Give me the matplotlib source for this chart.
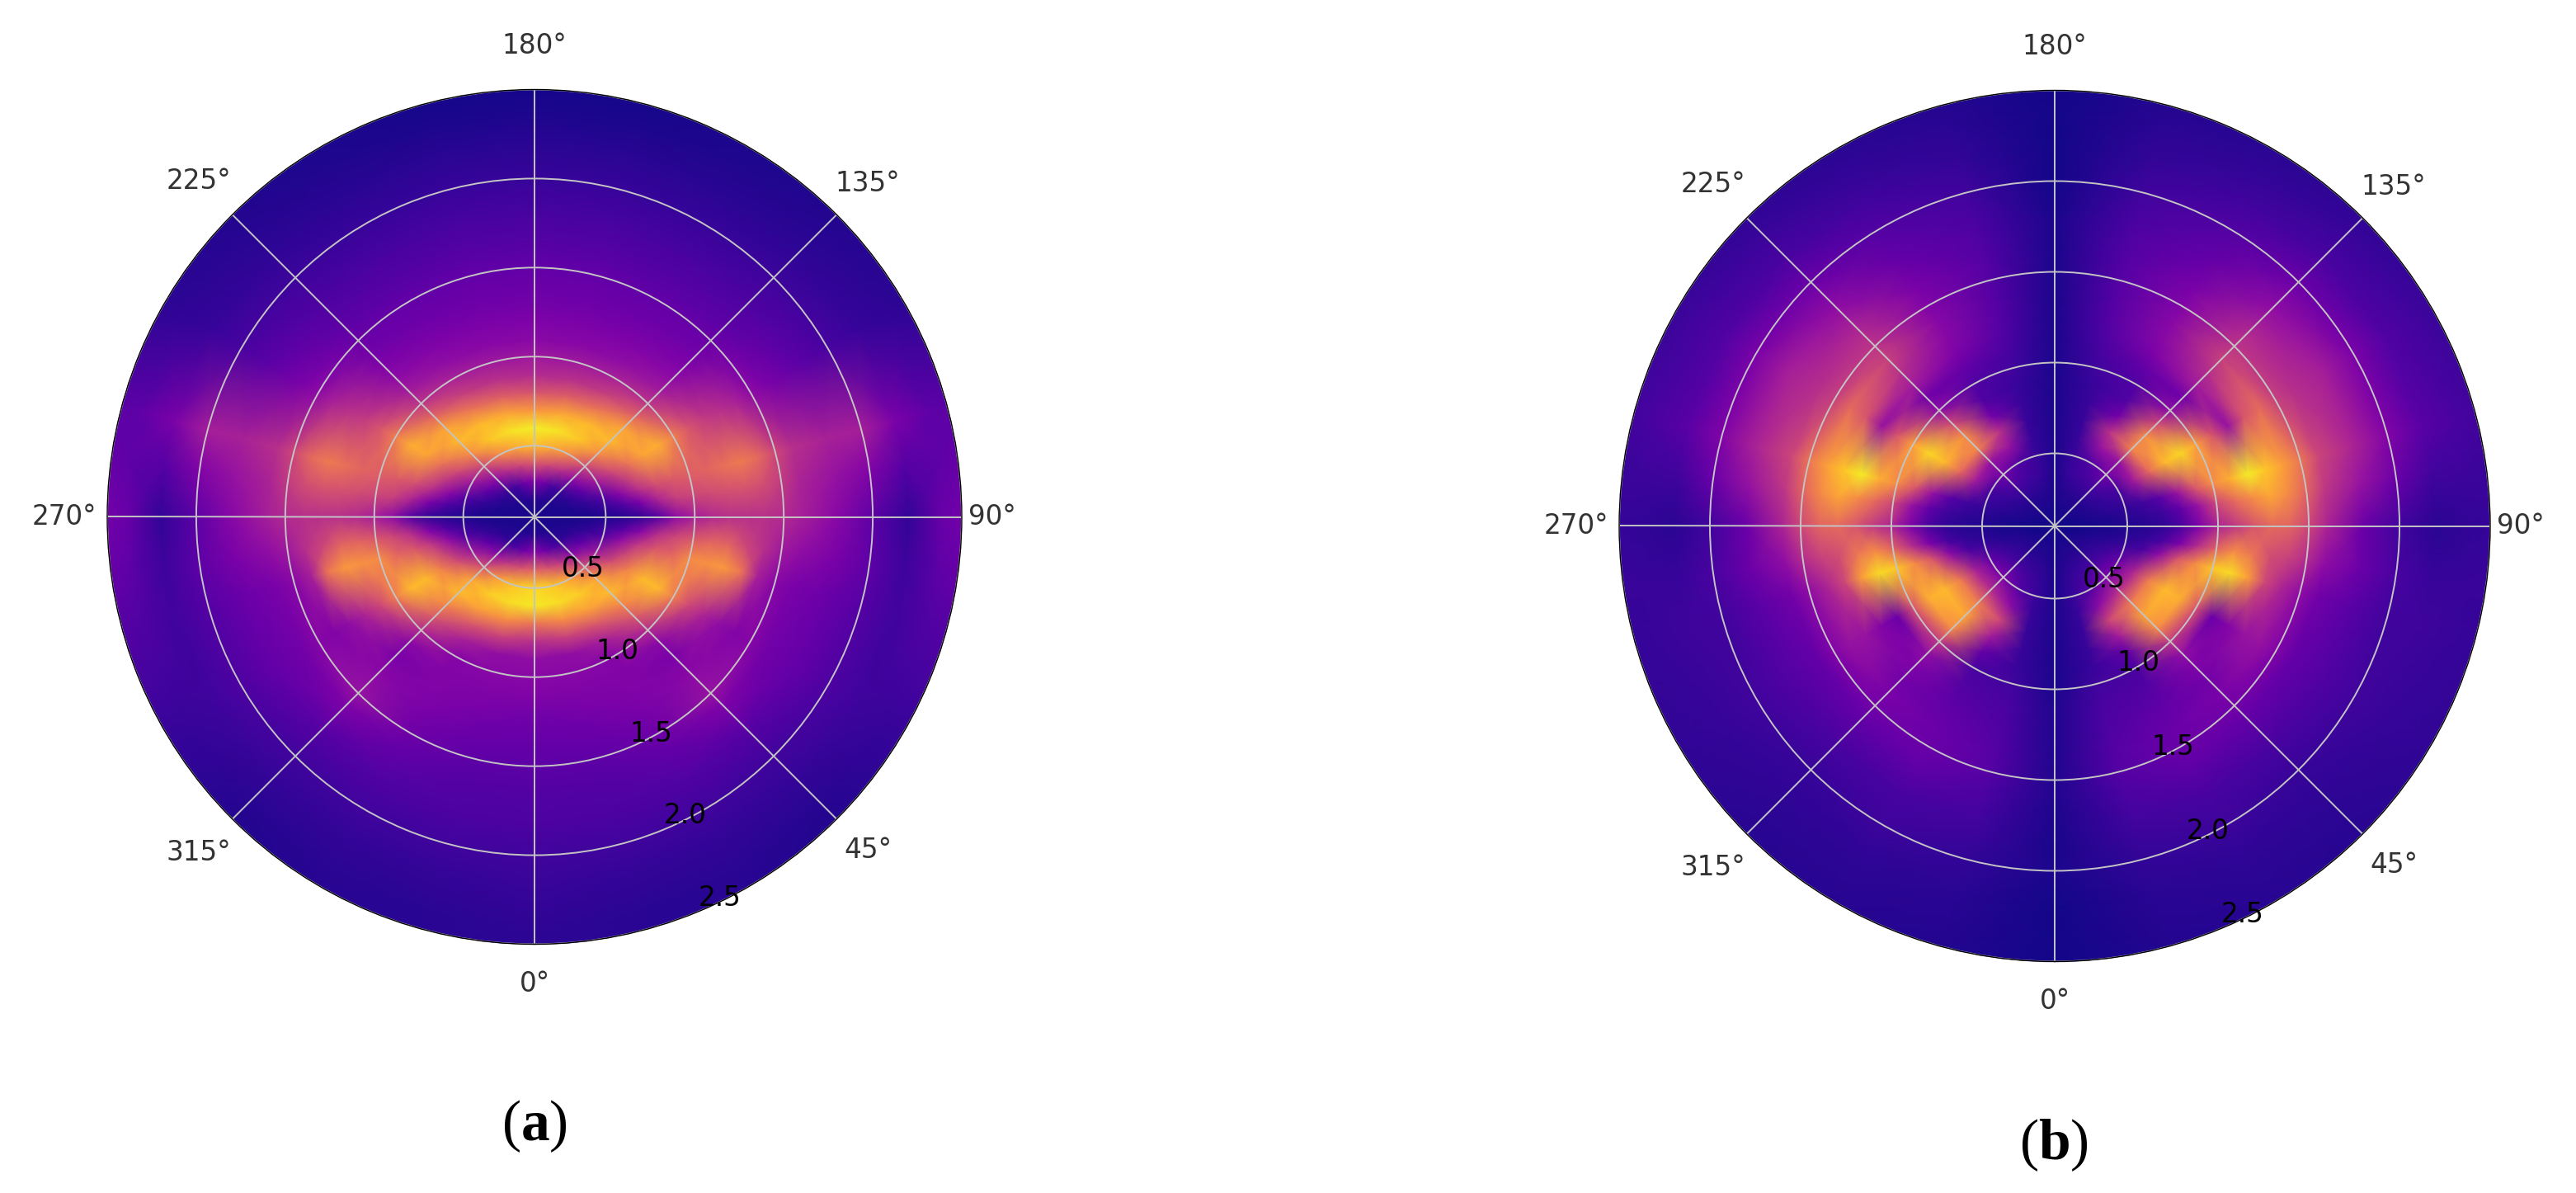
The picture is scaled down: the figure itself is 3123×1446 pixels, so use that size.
"Two polar intensity maps, panels (a) and (b)"
import numpy as np
import matplotlib
matplotlib.use('Agg')
import matplotlib.pyplot as plt

plt.rcParams['mathtext.fontset'] = 'custom'
plt.rcParams['mathtext.bf'] = 'Liberation Serif:bold'
plt.rcParams['mathtext.rm'] = 'Liberation Serif'

radii = [.1, .2, .3, .4, .5, .6, .7, .8, .9, 1.0, 1.1, 1.2, 1.3, 1.4, 1.5, 1.6, 1.8, 2.0, 2.2, 2.4, 2.6]
angles = [0, 15, 30, 45, 60, 75, 82, 90, 98, 105, 120, 135, 150, 165, 180]
r_ticks = [0.5, 1.0, 1.5, 2.0, 2.5]
theta_ticks = [0, 45, 90, 135, 180, 225, 270, 315]

# panel (a), one list per angle, read along the radius
a_000 = [.02, .04, .28, .60, .92, .96, .65, .42, .30, .28, .26, .22, .20, .18, .17, .15, .13, .10, .08, .06, .05]
a_015 = [.02, .04, .22, .55, .88, .94, .72, .48, .30, .28, .26, .24, .21, .19, .17, .15, .13, .10, .07, .05, .05]
a_030 = [.02, .03, .14, .45, .78, .90, .78, .55, .36, .27, .26, .26, .25, .23, .21, .18, .14, .10, .07, .05, .04]
a_045 = [.02, .03, .08, .30, .55, .80, .85, .70, .55, .40, .28, .24, .27, .30, .32, .25, .15, .10, .07, .04, .03]
a_060 = [.02, .02, .05, .18, .35, .52, .70, .85, .85, .68, .50, .38, .30, .26, .27, .22, .18, .13, .09, .08, .08]
a_075 = [.02, .02, .03, .07, .14, .30, .45, .56, .60, .72, .74, .76, .66, .36, .28, .24, .20, .15, .10, .14, .16]
a_082 = [.02, .02, .02, .04, .08, .15, .28, .42, .50, .56, .60, .60, .50, .42, .34, .30, .24, .17, .09, .17, .20]
a_090 = [.02, .02, .02, .02, .03, .04, .07, .15, .30, .36, .40, .42, .42, .42, .40, .36, .28, .17, .07, .20, .24]
a_098 = [.02, .02, .02, .04, .08, .14, .25, .38, .48, .50, .52, .54, .55, .52, .46, .38, .32, .26, .15, .17, .20]
a_105 = [.02, .02, .03, .07, .14, .28, .42, .52, .56, .58, .60, .64, .67, .62, .50, .42, .37, .36, .24, .17, .16]
a_120 = [.02, .02, .05, .18, .35, .50, .65, .80, .82, .68, .55, .46, .42, .37, .29, .24, .17, .12, .08, .06, .05]
a_135 = [.02, .03, .08, .30, .50, .72, .85, .80, .60, .44, .35, .29, .25, .22, .20, .17, .13, .09, .06, .04, .03]
a_150 = [.02, .03, .12, .42, .70, .88, .85, .65, .47, .37, .30, .26, .23, .20, .18, .16, .12, .08, .05, .03, .02]
a_165 = [.02, .04, .22, .50, .80, .95, .80, .58, .42, .34, .28, .25, .22, .20, .18, .16, .12, .08, .05, .02, .01]
a_180 = [.02, .04, .25, .55, .85, .97, .75, .55, .40, .34, .28, .25, .22, .20, .18, .16, .12, .08, .05, .02, .01]

# panel (b)
b_000 = [.01, .01, .02, .02, .02, .02, .02, .02, .02, .02, .03, .03, .03, .03, .03, .03, .02, .02, .01, .01, .01]
b_015 = [.01, .02, .04, .07, .08, .08, .08, .08, .08, .10, .12, .13, .14, .15, .15, .13, .10, .07, .05, .04, .03]
b_030 = [.01, .02, .05, .10, .15, .30, .50, .35, .18, .12, .14, .16, .18, .20, .20, .18, .12, .09, .06, .05, .04]
b_045 = [.01, .02, .05, .12, .25, .42, .68, .80, .72, .45, .30, .25, .22, .24, .22, .18, .12, .08, .06, .05, .04]
b_060 = [.01, .02, .05, .10, .20, .38, .68, .85, .82, .55, .20, .26, .32, .32, .26, .18, .14, .10, .08, .07, .06]
b_075 = [.01, .01, .03, .05, .08, .12, .30, .55, .72, .88, .93, .78, .50, .38, .30, .22, .16, .10, .09, .08, .07]
b_082 = [.01, .01, .02, .03, .05, .07, .12, .25, .42, .60, .72, .66, .52, .48, .40, .30, .20, .12, .08, .08, .08]
b_090 = [.01, .01, .01, .02, .03, .04, .06, .12, .25, .38, .45, .55, .62, .60, .50, .38, .20, .10, .05, .07, .08]
b_098 = [.01, .01, .02, .03, .05, .07, .10, .18, .32, .50, .62, .72, .80, .72, .60, .45, .32, .20, .10, .09, .08]
b_105 = [.01, .01, .03, .05, .07, .10, .16, .32, .55, .72, .82, .97, .88, .78, .66, .50, .38, .26, .16, .12, .09]
b_120 = [.01, .02, .04, .08, .12, .35, .62, .85, .92, .78, .55, .32, .55, .62, .48, .42, .36, .24, .14, .10, .07]
b_135 = [.01, .02, .05, .12, .22, .32, .70, .72, .50, .30, .22, .35, .42, .48, .44, .40, .30, .20, .12, .08, .05]
b_150 = [.01, .02, .05, .10, .14, .32, .42, .22, .14, .14, .18, .25, .28, .28, .26, .24, .18, .14, .09, .06, .04]
b_165 = [.01, .02, .04, .08, .08, .08, .08, .08, .08, .10, .12, .14, .15, .15, .15, .15, .13, .10, .07, .05, .03]
b_180 = [.01, .01, .02, .02, .02, .02, .02, .02, .02, .02, .02, .02, .02, .02, .02, .02, .02, .01, .01, .01, .01]

panel_a = [a_000, a_015, a_030, a_045, a_060, a_075, a_082, a_090, a_098, a_105, a_120, a_135, a_150, a_165, a_180]
panel_b = [b_000, b_015, b_030, b_045, b_060, b_075, b_082, b_090, b_098, b_105, b_120, b_135, b_150, b_165, b_180]

# distance of each angle label from the rim, points
label_pads = [24, 28, 16, 28, 28, 31, 27, 31]

W, H = 3123, 1446
fig = plt.figure(figsize=(W / 100, H / 100), dpi=100)


def draw_panel(columns, cx, cy, rad):
    ax = fig.add_axes([(cx - rad) / W, (H - cy - rad) / H, 2 * rad / W, 2 * rad / H], projection='polar')
    ax.set_theta_zero_location('S')
    ax.set_theta_direction(1)
    # left half mirrors the right half
    half = np.array(columns).T
    values = np.hstack([half, half[:, -2::-1]])
    deg = np.array(angles + [360 - a for a in angles[-2::-1]])
    tt, rr = np.meshgrid(np.deg2rad(deg), radii)
    ax.pcolormesh(tt, rr, values, shading='gouraud', cmap='plasma', vmin=0, vmax=1)
    ax.set_rlim(0.1, 2.5)
    ax.set_rticks(r_ticks)
    ax.set_xticks(np.deg2rad(theta_ticks))
    ax.set_xticklabels(['{}°'.format(t) for t in theta_ticks])
    ax.tick_params(axis='x', labelsize=23.5, labelcolor='#333333')
    ax.tick_params(axis='y', labelsize=23.5, labelcolor='black')
    for tick, pad in zip(ax.xaxis.get_major_ticks(), label_pads):
        tick.set_pad(pad)
    ax.grid(True, color='#c4c4c4', linewidth=1.4)
    ax.spines['polar'].set_linewidth(1.0)
    return ax


draw_panel(panel_a, 648, 626.5, 518)
draw_panel(panel_b, 2491, 637.5, 528)

fig.text(648 / W, 1 - 1365 / H, r'($\mathbf{a}$)', family='Liberation Serif', fontsize=50, ha='center', va='center')
fig.text(2490 / W, 1 - 1388 / H, r'($\mathbf{b}$)', family='Liberation Serif', fontsize=50, ha='center', va='center')

fig.savefig('out.png', dpi=100)
